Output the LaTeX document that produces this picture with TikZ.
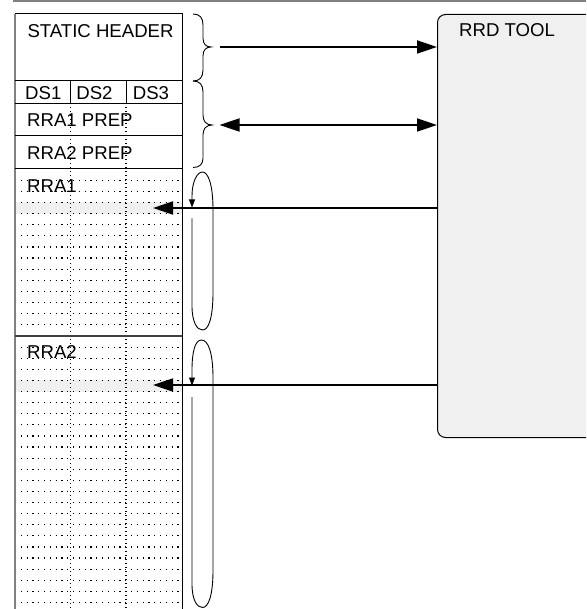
\documentclass[tikz,border=0pt]{standalone}
\usepackage{fontspec}
\setmainfont{Liberation Sans}
\usetikzlibrary{arrows.meta}
\begin{document}
\begin{tikzpicture}[x=1pt,y=-1pt,
  txt/.style={font=\fontsize{18.6}{20}\selectfont, inner sep=0pt, anchor=base west},
  txtc/.style={font=\fontsize{18.6}{20}\selectfont, inner sep=0pt, anchor=base},
  boxline/.style={line width=1pt, black},
  edgeline/.style={line width=1.6pt, black!50},
  hdot/.style={line width=1.2pt, dash pattern=on 1.2pt off 4.6pt, black},
  vdot/.style={line width=1.1pt, dash pattern=on 1.1pt off 2.9pt, black},
  bigarrow/.style={line width=1.8pt, -{Triangle[length=20pt,width=13pt]}},
  dblarrow/.style={line width=1.8pt, {Triangle[length=20pt,width=13pt]}-{Triangle[length=20pt,width=13pt]}},
  loopline/.style={line width=0.9pt, -{Triangle[length=8pt,width=6pt]}},
  braceline/.style={line width=0.9pt},
  band/.style={fill=black!6, draw=none},
  toolbox/.style={draw, line width=1pt, fill=black!6, rounded corners=8pt, inner sep=0pt, anchor=north west}]
\useasboundingbox (0,0) rectangle (586,609);
\clip (0,0) rectangle (586,609);

% top gray rule
\draw[edgeline] (13,1) -- (586,1);

% highlighted rows
\fill[band] (15,{169+11.13*3}) rectangle (182,{169+11.13*4});
\fill[band] (15,{336+11.1*4}) rectangle (182,{336+11.1*5});

% dotted grid
\foreach \k in {1,...,14} \draw[hdot] (15,{169+11.13*\k}) -- (182,{169+11.13*\k});
\foreach \k in {1,...,24} \draw[hdot] (15,{336+11.1*\k}) -- (182,{336+11.1*\k});
\draw[vdot] (70.7,103.3) -- (70.7,609);
\draw[vdot] (126,103.3) -- (126,609);

% left column box
\draw[edgeline] (15,14) -- (15,609);
\draw[boxline] (15,14) -- (182,14) -- (182,609);
\draw[boxline] (15,80.7) -- (182,80.7);
\draw[boxline] (15,103.3) -- (182,103.3);
\draw[boxline] (15,136) -- (182,136);
\draw[boxline] (15,168.5) -- (182,168.5);
\draw[line width=1.4pt, black!75] (15,336) -- (182,336);
\draw[boxline] (70.7,80.7) -- (70.7,103.3);
\draw[boxline] (126,80.7) -- (126,103.3);

% texts
\node[txt] (sh) at (27.3,37.5) {STATIC HEADER};
\node[txtc] (ds1) at (43.3,99.3) {DS1};
\node[txtc] (ds2) at (94.5,99.3) {DS2};
\node[txtc] (ds3) at (151,99.3) {DS3};
\node[txt] (p1) at (27,127) {RRA1 PREP};
\node[txt] (p2) at (27,159.3) {RRA2 PREP};
\node[txt] (r1t) at (27,192.5) {RRA1};
\node[txt] (r2t) at (27,358.5) {RRA2};

% RRD TOOL box
\node[toolbox, minimum width=170pt, minimum height=423pt] (rrd) at (437,14) {};
\node[txt] (rrdt) at (459,37) {RRD TOOL};

% braces
\draw[braceline] (193,14) .. controls (200,14) and (203,18) .. (203,25) -- (203,38)
  .. controls (203,44) and (206,47) .. (211,47)
  .. controls (206,47) and (203,50) .. (203,56) -- (203,70)
  .. controls (203,77) and (200,81) .. (193,81);
\draw[braceline] (193,81) .. controls (200,81) and (203,85) .. (203,92) -- (203,115)
  .. controls (203,121) and (206,125) .. (212,125)
  .. controls (206,125) and (203,129) .. (203,135) -- (203,158)
  .. controls (203,164) and (200,167.5) .. (193,167.5);

% loops
\coordinate (l1s) at (192,218.5);
\coordinate (l1e) at (192,207.5);
\coordinate (l2s) at (192,397);
\coordinate (l2e) at (192,385.5);
\draw[loopline] (l1s) -- (192,306) .. controls (192,322) and (197,330) .. (202.5,330)
  .. controls (208,330) and (213,320) .. (213,292) -- (213,210)
  .. controls (213,184) and (208,172) .. (202.5,172)
  .. controls (197,172) and (192,182) .. (192,196) -- (l1e);
\draw[loopline] (l2s) -- (192,584) .. controls (192,600) and (197,607.5) .. (202.5,607.5)
  .. controls (208,607.5) and (213,597) .. (213,570) -- (213,378)
  .. controls (213,352) and (208,340) .. (201.5,340)
  .. controls (195,340) and (192,352) .. (192,370) -- (l2e);

% arrows
\coordinate (a1) at (220,47);
\coordinate (a2) at (219.5,125);
\coordinate (t1) at (153,208);
\coordinate (t2) at (153,385);
\draw[bigarrow] (a1) -- (a1 -| rrd.west);
\draw[dblarrow] (a2) -- (a2 -| rrd.west);
\draw[bigarrow] (rrd.west |- t1) -- (t1);
\draw[bigarrow] (rrd.west |- t2) -- (t2);
\end{tikzpicture}
\end{document}
